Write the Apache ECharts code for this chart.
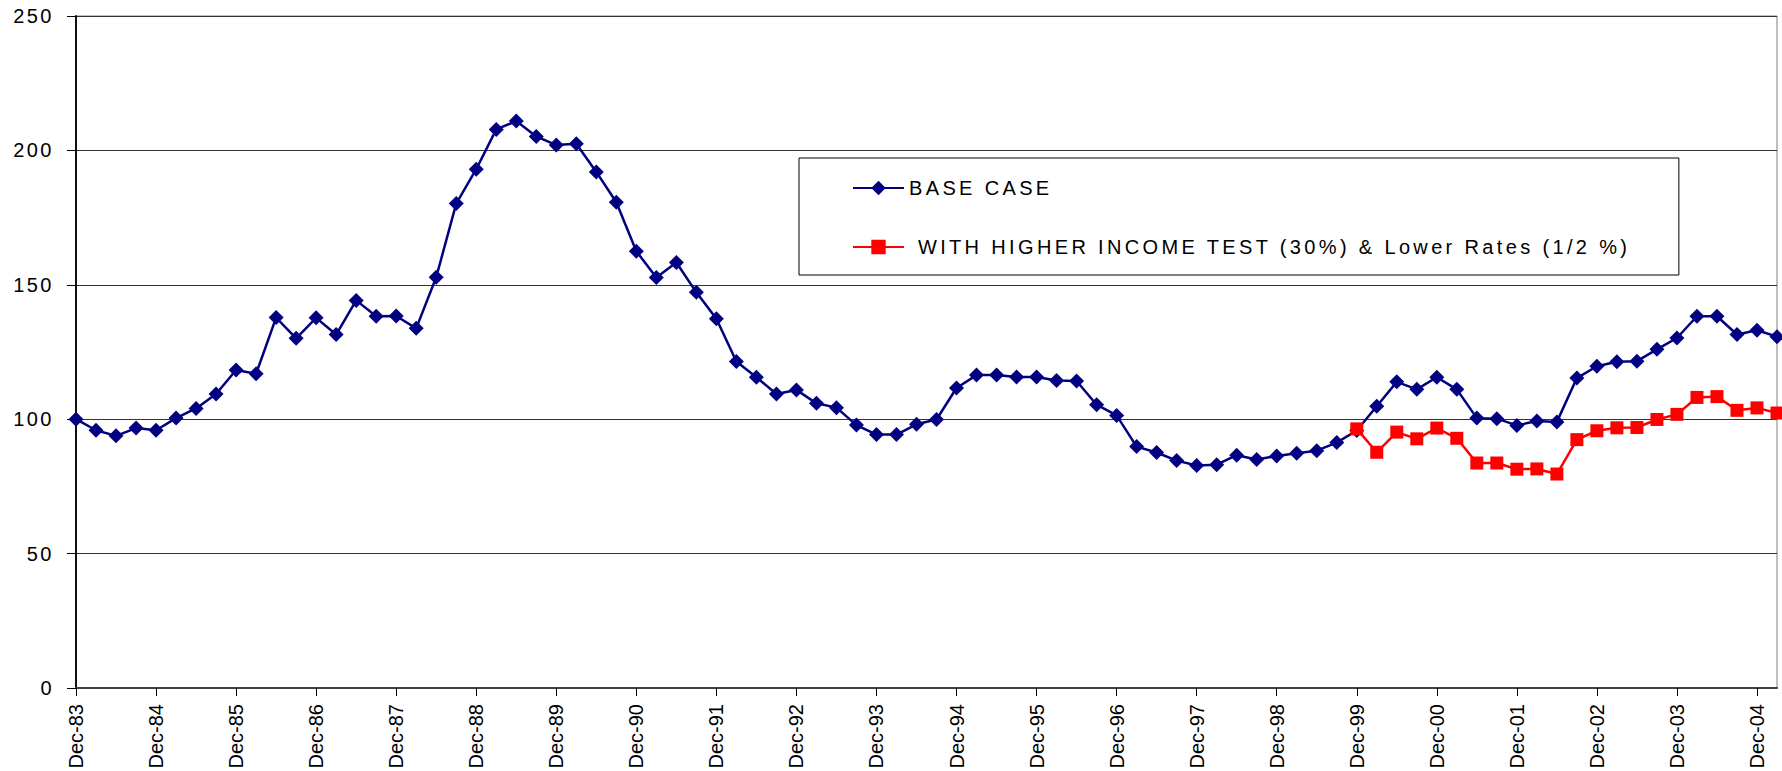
<!DOCTYPE html>
<html>
<head>
	<meta charset="utf-8">
	<title>Base case vs higher income test</title>
	<script src="https://cdn.jsdelivr.net/npm/echarts@6/dist/echarts.min.js"></script>
	<style>
		html, body { margin: 0; padding: 0; background: #fff; }
		#chart { width: 1782px; height: 771px; }
	</style>
</head>
<body>
	<div id="chart"></div>
	<script>
	// quarterly, Dec-83 .. Mar-05
	var quarters = [
		'Dec-83',
		'Mar-84','Jun-84','Sep-84','Dec-84',
		'Mar-85','Jun-85','Sep-85','Dec-85',
		'Mar-86','Jun-86','Sep-86','Dec-86',
		'Mar-87','Jun-87','Sep-87','Dec-87',
		'Mar-88','Jun-88','Sep-88','Dec-88',
		'Mar-89','Jun-89','Sep-89','Dec-89',
		'Mar-90','Jun-90','Sep-90','Dec-90',
		'Mar-91','Jun-91','Sep-91','Dec-91',
		'Mar-92','Jun-92','Sep-92','Dec-92',
		'Mar-93','Jun-93','Sep-93','Dec-93',
		'Mar-94','Jun-94','Sep-94','Dec-94',
		'Mar-95','Jun-95','Sep-95','Dec-95',
		'Mar-96','Jun-96','Sep-96','Dec-96',
		'Mar-97','Jun-97','Sep-97','Dec-97',
		'Mar-98','Jun-98','Sep-98','Dec-98',
		'Mar-99','Jun-99','Sep-99','Dec-99',
		'Mar-00','Jun-00','Sep-00','Dec-00',
		'Mar-01','Jun-01','Sep-01','Dec-01',
		'Mar-02','Jun-02','Sep-02','Dec-02',
		'Mar-03','Jun-03','Sep-03','Dec-03',
		'Mar-04','Jun-04','Sep-04','Dec-04',
		'Mar-05'
	];

	var baseCase = [
		100, 95.9, 93.8, 96.7, 95.9, 100.4, 104, 109.4, 118.3, 116.9,
		137.8, 130.1, 137.7, 131.5, 144.2, 138.3, 138.4, 133.8, 152.8, 180.2,
		193, 207.8, 210.9, 205.2, 202, 202.5, 192, 180.7, 162.5, 152.7,
		158.3, 147.2, 137.4, 121.5, 115.6, 109.4, 110.9, 105.9, 104.3, 97.8,
		94.3, 94.3, 98.1, 99.9, 111.6, 116.4, 116.4, 115.7, 115.7, 114.4,
		114.2, 105.4, 101.4, 89.8, 87.6, 84.6, 82.8, 83.1, 86.6, 85.0,
		86.3, 87.3, 88.3, 91.3, 95.8, 104.8, 113.9, 111.1, 115.6, 111.1,
		100.4, 100.2, 97.7, 99.3, 99.0, 115.3, 119.7, 121.4, 121.6, 126.0,
		130.2, 138.3, 138.3, 131.5, 133.1, 130.7
	];

	// starts at Dec-99
	var higherTestStart = 'Dec-99';
	var higherTest = [
		96.4, 87.7, 95.2, 92.7, 96.7, 92.9, 83.7, 83.7, 81.4, 81.5,
		79.6, 92.4, 95.7, 96.8, 96.9, 99.9, 101.8, 108.1, 108.4, 103.3,
		104.2, 102.3
	];

	var yTicks = [0, 50, 100, 150, 200, 250];

	var baseName = 'BASE CASE';
	var testName = '\u00a0WITH HIGHER INCOME TEST (30%) & Lower Rates (1/2 %)';

	var font = "'Liberation Sans', Arial, sans-serif";

	// pad the second series so it lines up with the categories
	var testData = quarters.map(function (q, i) {
		var k = i - quarters.indexOf(higherTestStart);
		return k >= 0 ? higherTest[k] : null;
	});

	var myChart = echarts.init(document.getElementById('chart'), null, { renderer: 'svg' });
	var option = {
		animation: false,
		backgroundColor: '#fff',
		grid: {
			left: 76,
			top: 16,
			right: 5,
			bottom: 83,
			show: true,
			borderColor: '#808080',
			borderWidth: 1,
			outerBoundsMode: 'none'
		},
		legend: {
			orient: 'vertical',
			left: 799,
			top: 158,
			padding: [20, 222, 18, 53],
			itemGap: 39,
			itemWidth: 51,
			itemHeight: 18,
			borderColor: '#000',
			borderWidth: 1,
			backgroundColor: '#fff',
			textStyle: { fontFamily: font, fontSize: 20, color: '#000' },
			data: [baseName, testName]
		},
		xAxis: {
			type: 'category',
			boundaryGap: false,
			data: quarters,
			axisLine: { lineStyle: { color: '#404040', width: 2 } },
			axisTick: { interval: 3, length: 8, lineStyle: { color: '#000' } },
			axisLabel: {
				interval: 3,
				rotate: 90,
				margin: 16,
				fontFamily: font,
				fontSize: 20,
				color: '#000'
			},
			splitLine: { show: false }
		},
		yAxis: {
			type: 'value',
			min: yTicks[0],
			max: yTicks[yTicks.length - 1],
			interval: 50,
			axisLine: { show: true, lineStyle: { color: '#111', width: 2 } },
			axisTick: { show: true, length: 9, lineStyle: { color: '#000' } },
			axisLabel: { margin: 22, fontFamily: font, fontSize: 20, color: '#000' },
			splitLine: { lineStyle: { color: '#333', width: 1 } }
		},
		series: [
			{
				name: baseName,
				type: 'line',
				data: baseCase,
				symbol: 'diamond',
				symbolSize: 15,
				showAllSymbol: true,
				clip: false,
				itemStyle: { color: '#000080' },
				lineStyle: { color: '#000080', width: 2.5 }
			},
			{
				name: testName,
				type: 'line',
				data: testData,
				symbol: 'rect',
				symbolSize: 13,
				showAllSymbol: true,
				clip: false,
				itemStyle: { color: '#ff0000' },
				lineStyle: { color: '#ff0000', width: 2.5 }
			}
		]
	};
	myChart.setOption(option);

	// the original uses spaced-out lettering on the legend and value labels
	document.querySelectorAll('#chart text').forEach(function (t) {
		var s = t.textContent;
		if (/^Dec-/.test(s)) return;
		t.style.letterSpacing = /^\d+$/.test(s) ? '2.5px' : '3.35px';
	});
	</script>
</body>
</html>
